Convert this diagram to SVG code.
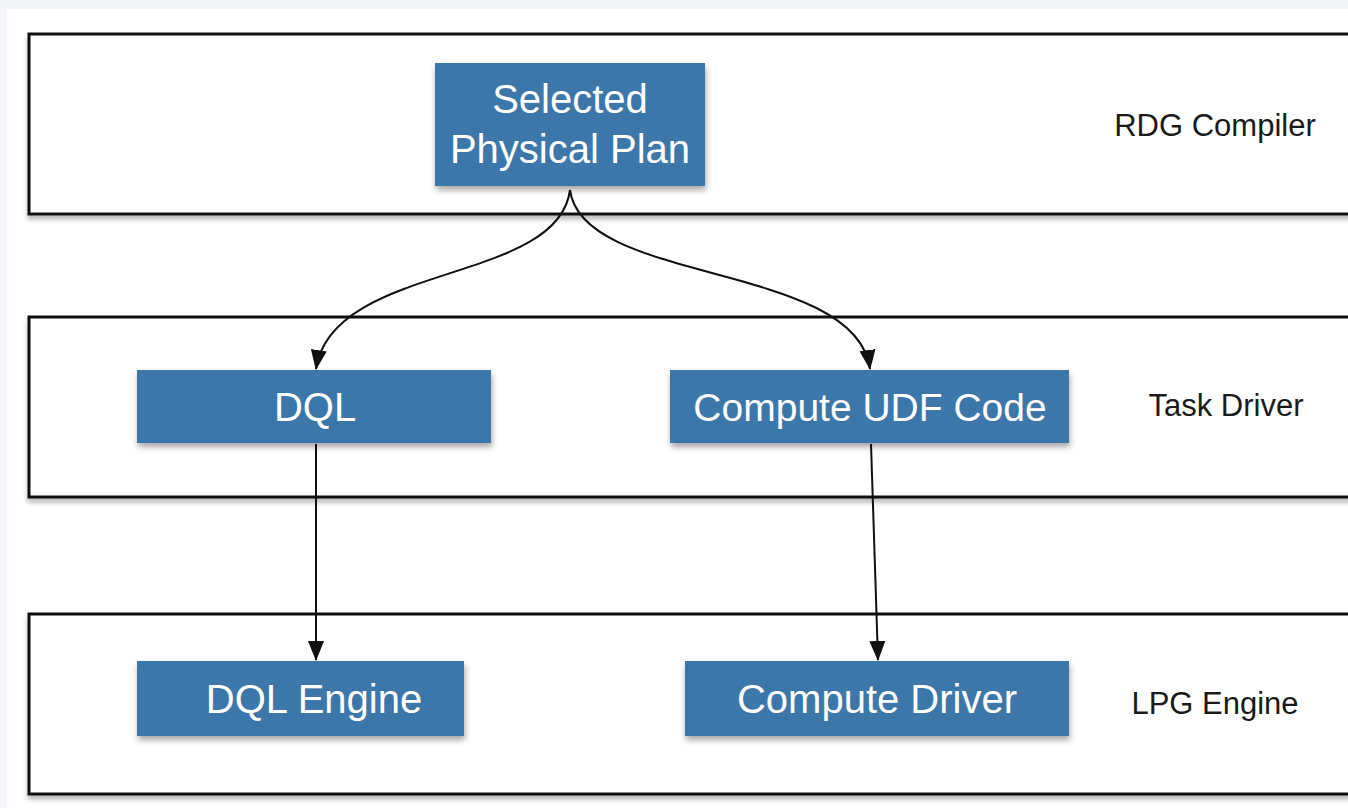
<svg xmlns="http://www.w3.org/2000/svg" width="1348" height="808" viewBox="0 0 1348 808">
  <style>
    .frame { fill: #ffffff; stroke: #111111; stroke-width: 3; filter: url(#frameShadow); }
    .node rect { fill: #3d77aa; filter: url(#nodeShadow); }
    .node text { fill: #ffffff; font-family: "Liberation Sans", Arial, sans-serif; font-size: 40px; text-anchor: middle; }
    .layer { fill: #1a1a1a; font-family: "Liberation Sans", Arial, sans-serif; font-size: 31px; text-anchor: middle; }
    .edge { fill: none; stroke: #111111; stroke-width: 2; marker-end: url(#arrow); }
  </style>
  <defs>
    <filter id="frameShadow" x="-5%" y="-10%" width="110%" height="130%">
      <feDropShadow dx="0" dy="4" stdDeviation="2.5" flood-color="#000000" flood-opacity="0.28"/>
    </filter>
    <filter id="nodeShadow" x="-10%" y="-20%" width="120%" height="150%">
      <feDropShadow dx="1" dy="4" stdDeviation="3" flood-color="#000000" flood-opacity="0.35"/>
    </filter>
    <marker id="arrow" markerUnits="userSpaceOnUse" markerWidth="20" markerHeight="18" viewBox="0 0 20 18" refX="19" refY="9" orient="auto">
      <path d="M0,1 L20,9 L0,17 Z" fill="#111111"/>
    </marker>
  </defs>

  <!-- page -->
  <rect x="0" y="0" width="1348" height="808" fill="#f3f4f7"/>
  <rect x="7" y="9" width="1341" height="799" fill="#ffffff"/>

  <!-- layer frames -->
  <g id="layers">
    <rect class="frame" x="29" y="34" width="1322" height="180"/>
    <rect class="frame" x="29" y="317" width="1322" height="180"/>
    <rect class="frame" x="29" y="614" width="1322" height="180"/>
    <text class="layer" x="1215" y="136">RDG Compiler</text>
    <text class="layer" x="1226" y="416">Task Driver</text>
    <text class="layer" x="1215" y="714">LPG Engine</text>
  </g>

  <!-- connectors -->
  <g id="connectors">
    <path class="edge" d="M570,190 C558,285 332,262 316,369"/>
    <path class="edge" d="M570,190 C582,285 856,262 870,369"/>
    <path class="edge" d="M316,444 L316,660"/>
    <path class="edge" d="M871,444 L878,660"/>
  </g>

  <!-- nodes -->
  <g id="selected-physical-plan" class="node">
    <rect x="435" y="63" width="270" height="123"/>
    <text x="570" y="113">Selected</text>
    <text x="570" y="163">Physical Plan</text>
  </g>
  <g id="dql" class="node">
    <rect x="137" y="370" width="354" height="73"/>
    <text x="315" y="421">DQL</text>
  </g>
  <g id="compute-udf-code" class="node">
    <rect x="670" y="370" width="399" height="73"/>
    <text x="870" y="421" style="font-size:39px">Compute UDF Code</text>
  </g>
  <g id="dql-engine" class="node">
    <rect x="137" y="661" width="327" height="75"/>
    <text x="314" y="713">DQL Engine</text>
  </g>
  <g id="compute-driver" class="node">
    <rect x="685" y="661" width="384" height="75"/>
    <text x="877" y="713">Compute Driver</text>
  </g>
</svg>
